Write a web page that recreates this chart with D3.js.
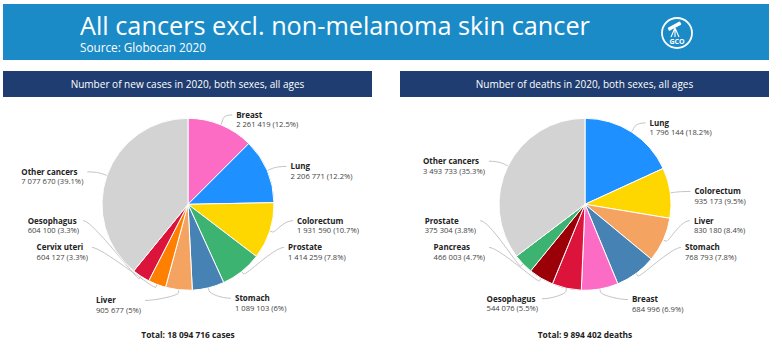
<!DOCTYPE html>
<html>
<head>
<meta charset="utf-8">
<script src="https://cdn.jsdelivr.net/npm/d3@7"></script>
<style>
  html, body { margin: 0; padding: 0; background: #ffffff; }
  svg { display: block; font-family: "Open Sans", "Noto Sans", sans-serif; }
</style>
</head>
<body>
<svg id="chart" width="782" height="353"></svg>
<script>
// ---------------- DATA ----------------
const mainTitle = "All cancers excl. non-melanoma skin cancer";
const sourceText = "Source: Globocan 2020";

const newCasesTitle = "Number of new cases in 2020, both sexes, all ages";
const newCasesCategories = ["Breast", "Lung", "Colorectum", "Prostate", "Stomach", "Liver", "Cervix uteri", "Oesophagus", "Other cancers"];
const newCasesValues = [2261419, 2206771, 1931590, 1414259, 1089103, 905677, 604127, 604100, 7077670];
const newCasesTotalUnit = "cases";

const deathsTitle = "Number of deaths in 2020, both sexes, all ages";
const deathsCategories = ["Lung", "Colorectum", "Liver", "Stomach", "Breast", "Oesophagus", "Pancreas", "Prostate", "Other cancers"];
const deathsValues = [1796144, 935173, 830180, 768793, 684996, 544076, 466003, 375304, 3493733];
const deathsTotalUnit = "deaths";

const cancerColors = {
  "Breast": "#fc6cc5",
  "Lung": "#1e90ff",
  "Colorectum": "#ffd700",
  "Prostate": "#3cb371",
  "Stomach": "#4682b4",
  "Liver": "#f4a460",
  "Cervix uteri": "#ff7f00",
  "Oesophagus": "#dc143c",
  "Pancreas": "#9b0008",
  "Other cancers": "#d3d3d3"
};

// ---------------- HELPERS ----------------
const svg = d3.select("#chart");
const fmtInt = v => d3.format(",")(v).replace(/,/g, " ");
const fmtPct = p => {
  const s = d3.format(".1f")(p);
  return s.endsWith(".0") ? s.slice(0, -2) : s;
};
function fitText(sel, targetWidth, baseSize) {
  sel.attr("font-size", baseSize);
  const len = sel.node().getComputedTextLength();
  sel.attr("font-size", baseSize * targetWidth / len);
}

// ---------------- HEADER ----------------
svg.append("rect").attr("x", 3).attr("y", 4).attr("width", 766).attr("height", 56)
  .attr("fill", "#1b8bc8");
const t1 = svg.append("text").attr("x", 80).attr("y", 34.5).attr("fill", "#ffffff")
  .text(mainTitle);
fitText(t1, 510, 24);
const t2 = svg.append("text").attr("x", 80).attr("y", 51.5).attr("fill", "#ffffff")
  .text(sourceText);
fitText(t2, 126, 12);

// GCO logo
const logo = svg.append("g").attr("transform", "translate(677,33)");
logo.append("circle").attr("r", 15).attr("fill", "none").attr("stroke", "#fff").attr("stroke-width", 1.8);
logo.append("rect").attr("x", -6).attr("y", -9).attr("width", 14).attr("height", 3.6).attr("rx", 1)
  .attr("fill", "#fff").attr("transform", "rotate(-28)");
logo.append("path").attr("d", "M-2,-5 L-6,4 M-2,-5 L-2,4 M-2,-5 L2,4")
  .attr("stroke", "#fff").attr("stroke-width", 1.1).attr("fill", "none");
logo.append("text").attr("x", 0).attr("y", 10.5).attr("text-anchor", "middle")
  .attr("font-size", 7).attr("font-weight", 700).attr("fill", "#fff").text("GCO");

// ---------------- PIES ----------------
function drawPanel(x0, w, title, cats, vals, unit, titleWidth) {
  const g = svg.append("g");
  g.append("rect").attr("x", x0).attr("y", 71).attr("width", w).attr("height", 26).attr("fill", "#1f3d70");
  const tt = g.append("text").attr("x", x0 + w / 2).attr("y", 84).attr("dy", "0.35em")
    .attr("text-anchor", "middle").attr("fill", "#ffffff").text(title);
  fitText(tt, titleWidth, 10);

  const cx = x0 + w / 2 + 0.5, cy = 204.3, r = 86;
  const total = d3.sum(vals);
  const data = cats.map((c, i) => ({ name: c, value: vals[i] }));
  const pie = d3.pie().sort(null).value(d => d.value).startAngle(0).endAngle(2 * Math.PI);
  const arcs = pie(data);
  const arc = d3.arc().innerRadius(0).outerRadius(r);
  const polar = (a, R) => [cx + R * Math.sin(a), cy - R * Math.cos(a)];

  // labels layout (slot based anti-collision)
  const labelR = r + 10.7, slotH = 26.75, slotOffset = 6.1;
  const Rx = r + 9.3, padX = 15;
  const items = arcs.map(a => {
    const mid = (a.startAngle + a.endAngle) / 2;
    return { a, mid, side: mid < Math.PI ? 1 : -1, ny: cy - labelR * Math.cos(mid) };
  });
  [1, -1].forEach(side => {
    const half = items.filter(d => d.side === side).sort((p, q) => p.ny - q.ny);
    const slots = [];
    for (let p = cy - labelR + slotOffset; p < cy + labelR - slotH / 2; p += slotH) slots.push(p);
    const L = slots.length, n = half.length;
    const free = slots.map(() => true);
    half.forEach((it, j) => {
      let k = 0, bd = Infinity;
      slots.forEach((s, i) => { const dd = Math.abs(s - it.ny); if (dd < bd) { bd = dd; k = i; } });
      if (k < j) k = j;
      else if (L < n - j + k) k = L - n + j;
      k = Math.max(0, Math.min(L - 1, k));
      let kk = k;
      while (kk < L && !free[kk]) kk++;
      if (kk >= L) { kk = k; while (kk >= 0 && !free[kk]) kk--; }
      free[kk] = false;
      it.slot = kk;
    });
    half.forEach(it => {
      const k = it.slot;
      let y = slots[k];
      const nextFree = k + 1 >= L || free[k + 1];
      const prevFree = k - 1 < 0 || free[k - 1];
      if ((it.ny > y && nextFree) || (it.ny < y && prevFree)) y = it.ny;
      it.y = y;
      const dy = y - cy;
      const lim = 0.942 * Rx;
      const dyc = Math.max(-lim, Math.min(lim, dy));
      it.ex = cx + side * (Math.sqrt(Rx * Rx - dyc * dyc) + padX);
    });
  });

  // connectors
  const line = g.append("g");
  items.forEach(it => {
    const s = it.side;
    const p0 = polar(it.mid, r), p1 = polar(it.mid, r + 3), c2 = polar(it.mid, r + 6);
    const path = d3.path();
    path.moveTo(it.ex - s * 4, it.y);
    path.bezierCurveTo(it.ex - s * 14, it.y, c2[0], c2[1], p1[0], p1[1]);
    path.lineTo(p0[0], p0[1]);
    line.append("path").attr("d", path.toString()).attr("fill", "none")
      .attr("stroke", "#c4c4c4").attr("stroke-width", 1);
  });

  // slices
  g.append("g").selectAll("path").data(arcs).join("path")
    .attr("transform", `translate(${cx},${cy})`)
    .attr("d", arc)
    .attr("fill", d => cancerColors[d.data.name])
    .attr("stroke", "#ffffff").attr("stroke-width", 1).attr("stroke-linejoin", "round");

  // label texts
  items.forEach(it => {
    const lg = g.append("g");
    const nameT = lg.append("text").attr("y", it.y).attr("dy", "0.35em")
      .attr("font-size", 8).attr("font-weight", 700).attr("fill", "#222")
      .text(it.a.data.name);
    const valT = lg.append("text").attr("y", it.y + 9.7).attr("dy", "0.35em")
      .attr("font-size", 7.6).attr("fill", "#444")
      .text(`${fmtInt(it.a.data.value)} (${fmtPct(it.a.data.value / total * 100)}%)`);
    const wmax = Math.max(nameT.node().getComputedTextLength(), valT.node().getComputedTextLength());
    const tx = it.side === 1 ? it.ex : it.ex - wmax;
    nameT.attr("x", tx);
    valT.attr("x", tx);
  });

  g.append("text").attr("x", cx).attr("y", 335).attr("dy", "0.35em").attr("text-anchor", "middle")
    .attr("font-size", 8.4).attr("font-weight", 700).attr("fill", "#222")
    .text(`Total: ${fmtInt(total)} ${unit}`);
}

drawPanel(3, 369, newCasesTitle, newCasesCategories, newCasesValues, newCasesTotalUnit, 234);
drawPanel(400, 369, deathsTitle, deathsCategories, deathsValues, deathsTotalUnit, 218);
</script>
</body>
</html>
